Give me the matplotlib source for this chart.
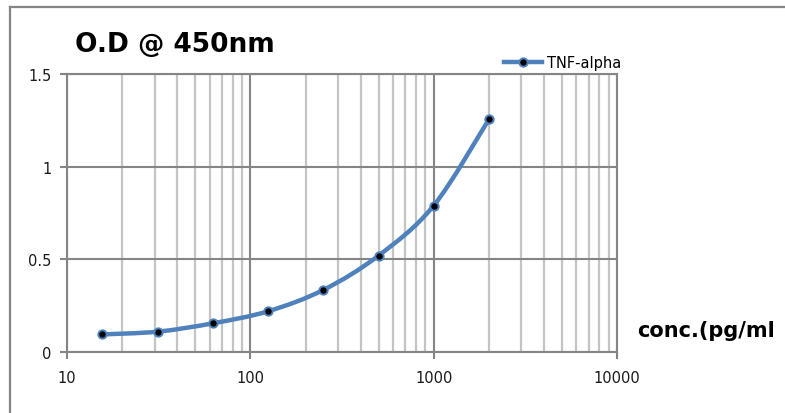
import numpy as np
import matplotlib
matplotlib.use('Agg')
import matplotlib.pyplot as plt
from matplotlib.lines import Line2D
from matplotlib.path import Path
from matplotlib.patches import PathPatch
from matplotlib.ticker import LogLocator, FixedLocator, NullFormatter

conc = [15.6, 31.25, 62.5, 125, 250, 500, 1000, 2000]
od = [0.095, 0.11, 0.155, 0.22, 0.335, 0.52, 0.79, 1.255]
series_name = 'TNF-alpha'
x_ticks = [10, 100, 1000, 10000]
x_tick_labels = ['10', '100', '1000', '10000']
y_ticks = [0, 0.5, 1, 1.5]
y_tick_labels = ['0', '0.5', '1', '1.5']

blue = '#4F81BD'
grid_dark = '#858585'
grid_light = '#c4c4c4'


def smooth_path(xs, ys):
    """Excel-like smoothed line: Catmull-Rom bezier in log10(x) space."""
    lx = np.log10(xs)
    ly = np.asarray(ys, dtype=float)
    n = len(lx)
    verts = [(xs[0], ly[0])]
    codes = [Path.MOVETO]
    for i in range(n - 1):
        i0 = max(i - 1, 0)
        i3 = min(i + 2, n - 1)
        c1x = lx[i] + (lx[i + 1] - lx[i0]) / 6
        c1y = ly[i] + (ly[i + 1] - ly[i0]) / 6
        c2x = lx[i + 1] - (lx[i3] - lx[i]) / 6
        c2y = ly[i + 1] - (ly[i3] - ly[i]) / 6
        verts += [(10 ** c1x, c1y), (10 ** c2x, c2y), (xs[i + 1], ly[i + 1])]
        codes += [Path.CURVE4] * 3
    return Path(verts, codes)


plt.rcParams['font.family'] = ['DejaVu Sans']

fig = plt.figure(figsize=(7.85, 4.14), dpi=100)
ax = fig.add_axes([0.0854, 0.1473, 0.786 - 0.0854, 0.8188 - 0.1473])

ax.set_xscale('log')
ax.set_xlim(10, 10000)
ax.set_ylim(0, 1.5)

# grid: minor (light) first, major (dark) over it
ax.xaxis.set_minor_locator(LogLocator(base=10, subs=np.arange(2, 10)))
ax.xaxis.set_minor_formatter(NullFormatter())
ax.grid(which='minor', axis='x', color=grid_light, linewidth=1.6)
ax.grid(which='major', axis='both', color=grid_dark, linewidth=1.5)
ax.set_axisbelow(True)

ax.xaxis.set_major_locator(FixedLocator(x_ticks))
ax.set_xticklabels(x_tick_labels)
ax.set_yticks(y_ticks)
ax.set_yticklabels(y_tick_labels)
ax.tick_params(which='major', direction='out', length=5, width=1.5,
               color=grid_dark, labelsize=10.5, labelcolor='#1a1a1a')
ax.tick_params(axis='x', pad=8)
ax.tick_params(axis='y', pad=6)
ax.tick_params(which='minor', length=0)
for s in ax.spines.values():
    s.set_color(grid_dark)
    s.set_linewidth(1.5)

ax.add_patch(PathPatch(smooth_path(conc, od), facecolor='none', edgecolor=blue,
                       linewidth=3.2, capstyle='round', joinstyle='round',
                       zorder=3))
ax.plot(conc, od, linestyle='none', marker='o', markersize=6,
        markerfacecolor='black', markeredgecolor=blue, markeredgewidth=1.4,
        zorder=4)

handle = Line2D([], [], color=blue, linewidth=3.2, marker='o', markersize=6,
                markerfacecolor='black', markeredgecolor=blue,
                markeredgewidth=1.4)
ax.legend([handle], [series_name], loc='lower left', bbox_to_anchor=(0.79, 1.005),
          frameon=False, fontsize=10.5, handlelength=2.6, handletextpad=0.3,
          borderaxespad=0, borderpad=0.2)

fig.text(75 / 785, 1 - 45 / 414, 'O.D @ 450nm', fontsize=19, fontweight='bold',
         va='center', ha='left')
fig.text(637 / 785, 1 - 331 / 414, 'conc.(pg/ml', fontsize=15, fontweight='bold',
         va='center', ha='left')

# chart border (top and left visible)
fig.add_artist(Line2D([10 / 785, 1], [1 - 7.5 / 414] * 2, color=grid_dark,
                      linewidth=1.6, transform=fig.transFigure))
fig.add_artist(Line2D([10 / 785] * 2, [0, 1 - 7.5 / 414], color=grid_dark,
                      linewidth=1.6, transform=fig.transFigure))

fig.savefig('out.png', dpi=100)
